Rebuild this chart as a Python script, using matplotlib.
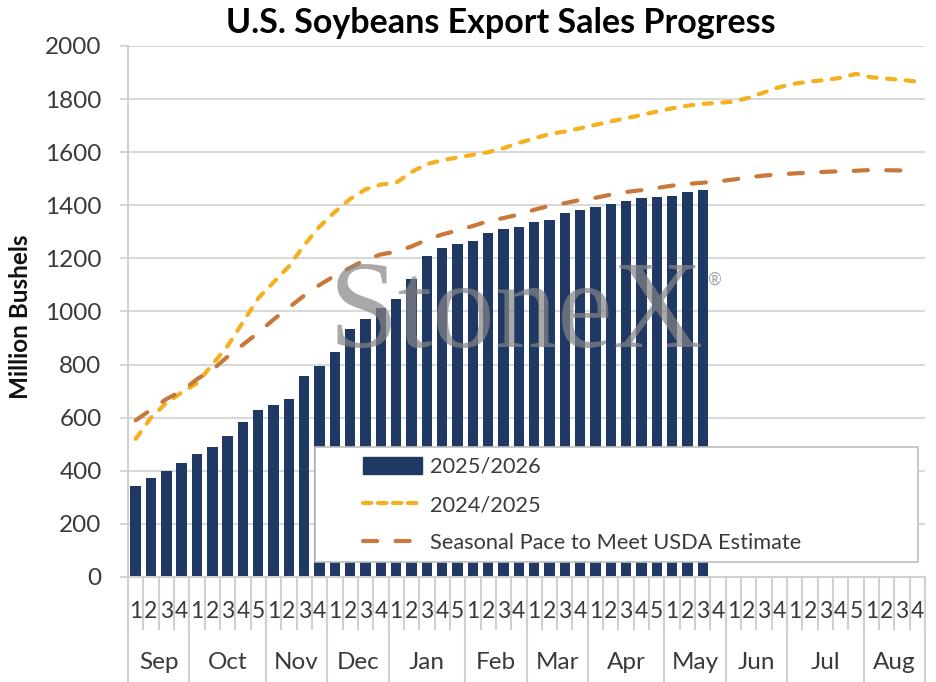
import numpy as np
import matplotlib
matplotlib.use('Agg')
import matplotlib.pyplot as plt
from matplotlib.patches import Patch, Rectangle
from matplotlib.lines import Line2D

# Data (million bushels, weekly)
months = ['Sep', 'Oct', 'Nov', 'Dec', 'Jan', 'Feb', 'Mar', 'Apr', 'May', 'Jun', 'Jul', 'Aug']
weeks_per_month = [4, 5, 4, 4, 5, 4, 4, 5, 4, 4, 5, 4]

sales_2526 = [341, 371, 399, 430, 462, 490, 531, 584, 629, 647, 671, 757, 794, 849,
              935, 972, 1013, 1048, 1121, 1210, 1239, 1255, 1266, 1295, 1309, 1320,
              1336, 1345, 1371, 1382, 1395, 1404, 1416, 1428, 1432, 1436, 1449, 1459]

sales_2425 = [520, 600, 655, 695,
              730, 800, 870, 960, 1050,
              1110, 1170, 1250, 1320,
              1375, 1424, 1460, 1478,
              1485, 1525, 1555, 1570, 1580,
              1590, 1600, 1615, 1635,
              1652, 1668, 1678, 1690,
              1703, 1716, 1728, 1740, 1753,
              1765, 1775, 1782, 1786,
              1790, 1805, 1825, 1845,
              1858, 1866, 1872, 1880, 1895,
              1882, 1877, 1872, 1866]

seasonal_pace = [590, 630, 670, 700,
                 745, 780, 830, 875, 920,
                 970, 1015, 1060, 1100,
                 1135, 1165, 1195, 1215,
                 1225, 1245, 1270, 1290, 1305,
                 1322, 1340, 1352, 1365,
                 1383, 1398, 1408, 1420,
                 1428, 1440, 1450, 1457, 1465,
                 1474, 1480, 1485, 1490,
                 1497, 1505, 1512, 1516,
                 1520, 1523, 1526, 1528, 1530,
                 1533, 1532, 1531, 1530]

navy = '#1F3864'
gold = '#F4B01E'
brown = '#C8783A'
grid_c = '#D9D9D9'
txt_c = '#3A3A3A'

plt.rcParams['font.family'] = ['Lato', 'DejaVu Sans']

week_labels = [str(w + 1) for n in weeks_per_month for w in range(n)]
x = np.arange(len(week_labels))

fig = plt.figure(figsize=(9.37, 6.82), dpi=100)
ax = fig.add_axes([0.1366, 0.154, 0.8506, 0.7786])

ax.bar(x[:len(sales_2526)], sales_2526, width=0.68, color=navy, zorder=2)
ax.plot(x, sales_2425, color=gold, lw=3.0, dashes=(2.0, 2.5),
        dash_capstyle='round', zorder=3)
ax.plot(x, seasonal_pace, color=brown, lw=3.0, dashes=(3.4, 4.4),
        dash_capstyle='round', zorder=3)

ax.set_xlim(-0.5, len(x) - 0.5)
ax.set_ylim(0, 2000)
ax.set_yticks(range(0, 2001, 200))
ax.yaxis.grid(True, color=grid_c, lw=1.5, zorder=0)
ax.set_axisbelow(True)
ax.tick_params(axis='y', labelsize=17.5, colors='#D0D0D0', length=6, width=1.2,
               labelcolor=txt_c, pad=13)

for s in ['top', 'right']:
    ax.spines[s].set_visible(False)
ax.spines['left'].set_color('#D0D0D0')
ax.spines['bottom'].set_color('#D0D0D0')
ax.spines['left'].set_linewidth(1.5)
ax.spines['bottom'].set_linewidth(1.5)

# week numbers and month groups under the axis
ax.set_xticks(x)
ax.set_xticklabels(week_labels, fontsize=16.5, color=txt_c)
ax.tick_params(axis='x', length=0, pad=17)

bounds = np.concatenate([[0], np.cumsum(weeks_per_month)]) - 0.5
xt = ax.get_xaxis_transform()
ax.vlines(np.arange(len(x) + 1) - 0.5, 0, -0.10, transform=xt, clip_on=False,
          color='#D0D0D0', lw=1.5)
ax.vlines(bounds, 0, -0.20, transform=xt, clip_on=False, color='#D0D0D0', lw=1.5)
for i, m in enumerate(months):
    ax.text((bounds[i] + bounds[i + 1]) / 2, -0.162, m, transform=xt,
            ha='center', va='center', fontsize=17.5, color=txt_c)

ax.set_ylabel('Million Bushels', fontsize=17.5, fontweight='bold', color='#111111')
ax.yaxis.set_label_coords(-0.12, 0.49)
fig.text(0.534, 0.966, 'U.S. Soybeans Export Sales Progress', ha='center',
         va='center', fontsize=24.5, fontweight='bold')

# watermark
fig.text(0.551, 0.535, 'StoneX', ha='center', va='center', fontsize=90,
         family='Liberation Serif', color='#858585', alpha=0.7, zorder=5)
fig.text(0.762, 0.59, '\u00ae', ha='center', va='center', fontsize=12,
         color='#A0A0A0', zorder=5)

# legend box
ax.add_patch(Rectangle((0.2346, 0.028), 0.757, 0.2168, transform=ax.transAxes,
                       facecolor='white', edgecolor='#BFBFBF', lw=1.2, zorder=6))
handles = [Patch(facecolor=navy, edgecolor=navy),
           Line2D([], [], color=gold, lw=3.0, dashes=(2.0, 1.6), dash_capstyle='round'),
           Line2D([], [], color=brown, lw=3.0, dashes=(3.4, 4.4), dash_capstyle='round')]
labels = ['2025/2026', '2024/2025', 'Seasonal Pace to Meet USDA Estimate']
leg = ax.legend(handles, labels, loc='upper left', bbox_to_anchor=(0.295, 0.226),
                fontsize=15.7, frameon=False, handlelength=2.72, handleheight=0.8,
                labelspacing=0.83, borderpad=0, handletextpad=0.35,
                borderaxespad=0)
leg.set_zorder(7)
for t in leg.get_texts():
    t.set_color(txt_c)

fig.savefig('out.png', dpi=100, facecolor='white')
